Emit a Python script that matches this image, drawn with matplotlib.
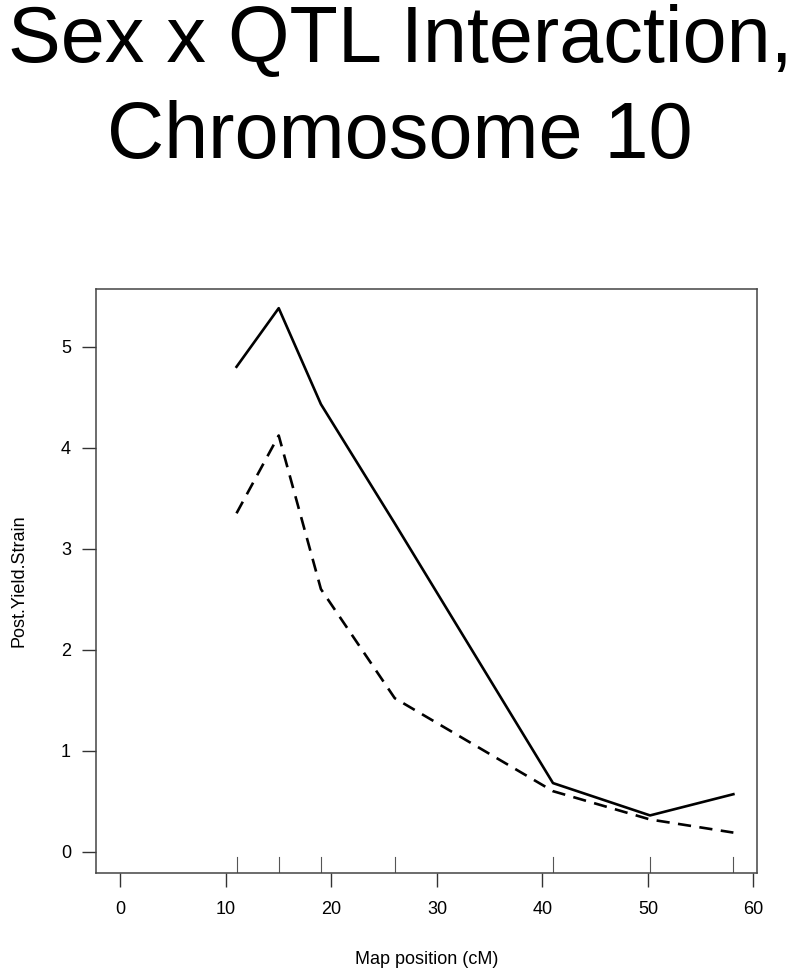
import matplotlib
matplotlib.use("Agg")
import matplotlib.pyplot as plt
from matplotlib.transforms import blended_transform_factory

plt.rcParams["font.family"] = ["Liberation Sans", "DejaVu Sans"]

# marker positions (cM) and effect estimates for each sex
positions = [11.0, 15.0, 19.0, 26.0, 41.0, 50.2, 58.1]
solid_vals = [4.80, 5.38, 4.43, 3.25, 0.68, 0.36, 0.57]
dashed_vals = [3.35, 4.12, 2.60, 1.52, 0.60, 0.32, 0.19]

x_ticks = [0, 10, 20, 30, 40, 50, 60]
y_ticks = [0, 1, 2, 3, 4, 5]

fig = plt.figure(figsize=(8, 9.75), dpi=100)
fig.text(0.5, 0.996, "Sex x QTL Interaction,\nChromosome 10", ha="center",
         va="top", fontsize=57, linespacing=1.36)

ax = fig.add_axes([0.12, 0.1046, 0.826, 0.599])
ax.plot(positions, solid_vals, color="black", lw=1.9)
ax.plot(positions, dashed_vals, color="black", lw=1.9, dashes=(5, 3.2))

# rug of marker positions along the bottom
trans = blended_transform_factory(ax.transData, ax.transAxes)
for p in positions:
    ax.plot([p, p], [0, 0.027], color="#555555", lw=0.8, transform=trans)

ax.set_xlim(-2.32, 60.32)
ax.set_ylim(-0.21, 5.57)
ax.set_xticks(x_ticks)
ax.set_yticks(y_ticks)
ax.tick_params(direction="out", length=10, width=1, color="#333333",
               labelsize=13, pad=10)
ax.tick_params(axis="y", pad=8)
for s in ax.spines.values():
    s.set_color("#444444")
    s.set_linewidth(1.1)

ax.set_xlabel("Map position (cM)", fontsize=13, labelpad=24)
ax.set_ylabel("Post.Yield.Strain", fontsize=13, labelpad=24)

fig.savefig("out.png", dpi=100)
